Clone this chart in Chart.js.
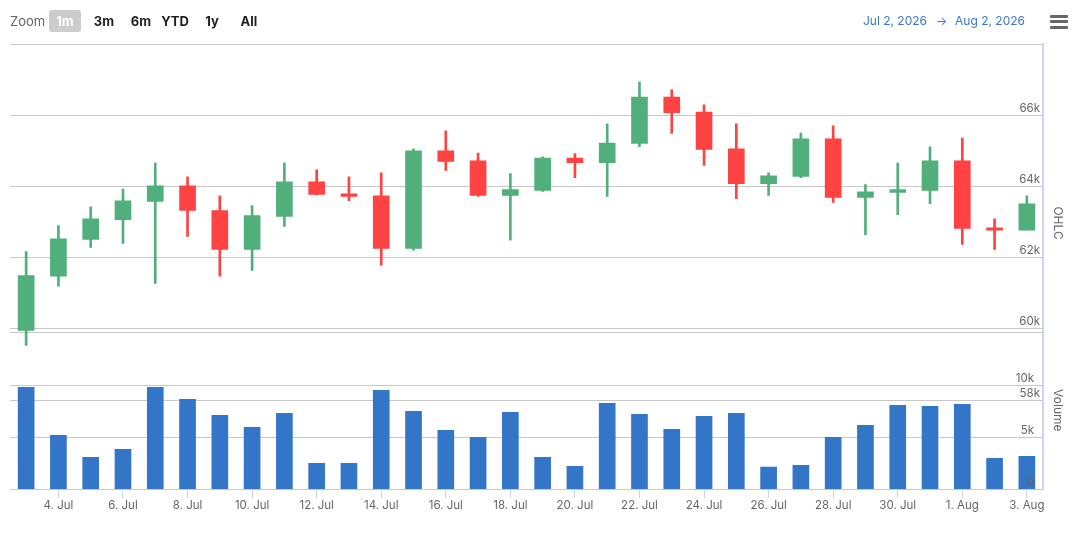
<!DOCTYPE html>
<html>
<head>
<meta charset="utf-8">
<script src="https://cdn.jsdelivr.net/npm/chart.js@4.4.1/dist/chart.umd.min.js"></script>
<style>
  html, body { margin: 0; padding: 0; background: #fff; }
  #wrap { position: relative; width: 1080px; height: 534px; overflow: hidden; font-family: Inter, "Open Sans", sans-serif; }
  #chart { position: absolute; left: 0; top: 0; }
  .tb { position: absolute; top: 10px; height: 22px; line-height: 22px; font-size: 13px; white-space: nowrap; }
  .zoom-label { left: 10px; color: #666; }
  .btn { font-weight: 700; color: #1f1f1f; text-align: center; }
  .btn.active { background: #cccccc; color: #fff; border-radius: 3px; }
  .range { color: #3b78c9; font-size: 12px; }
  .menu { position: absolute; left: 1050px; width: 18px; height: 3px; background: #666; border-radius: 1px; }
</style>
</head>
<body>
<div id="wrap">
  <canvas id="chart" width="1080" height="534"></canvas>
  <div class="tb zoom-label">Zoom</div>
  <div class="tb btn active" style="left:49px;width:32px;">1m</div>
  <div class="tb btn" style="left:92px;width:24px;">3m</div>
  <div class="tb btn" style="left:129px;width:24px;">6m</div>
  <div class="tb btn" style="left:160px;width:30px;">YTD</div>
  <div class="tb btn" style="left:203px;width:18px;">1y</div>
  <div class="tb btn" style="left:238px;width:22px;">All</div>
  <div class="tb range" style="right:153px;">Jul 2, 2026</div>
  <div class="tb range" style="left:936px;">&rarr;</div>
  <div class="tb range" style="right:55px;">Aug 2, 2026</div>
  <div class="menu" style="top:15px;"></div>
  <div class="menu" style="top:20px;"></div>
  <div class="menu" style="top:26px;"></div>
</div>
<script>
// Dates (one candle per day, 3 Jul - 3 Aug)
const DAYS = [
    '3. Jul', '4. Jul', '5. Jul', '6. Jul', '7. Jul', '8. Jul', '9. Jul', '10. Jul',
    '11. Jul', '12. Jul', '13. Jul', '14. Jul', '15. Jul', '16. Jul', '17. Jul', '18. Jul',
    '19. Jul', '20. Jul', '21. Jul', '22. Jul', '23. Jul', '24. Jul', '25. Jul', '26. Jul',
    '27. Jul', '28. Jul', '29. Jul', '30. Jul', '31. Jul', '1. Aug', '2. Aug', '3. Aug'
];

const OPEN = [
    59960, 61480, 62510, 63070, 63580, 64020, 63320, 62230,
    63160, 64130, 63790, 63740, 62260, 65000, 64720, 63750,
    63890, 64800, 64670, 65210, 66510, 66090, 65060, 64080,
    64280, 65340, 63690, 63830, 63890, 64720, 62840, 62770
];
const HIGH = [
    62170, 62900, 63430, 63930, 64660, 64270, 63740, 63460,
    64660, 64470, 64270, 64380, 65060, 65560, 64940, 64360,
    64830, 64920, 65760, 66930, 66710, 66290, 65760, 64380,
    65500, 65700, 64050, 64660, 65110, 65360, 63090, 63740
];
const LOW = [
    59540, 61200, 62290, 62400, 61280, 62600, 61480, 61640,
    62880, 63760, 63600, 61790, 62210, 64450, 63720, 62490,
    63860, 64250, 63720, 65120, 65490, 64590, 63660, 63750,
    64250, 63550, 62650, 63210, 63520, 62370, 62230, 62770
];
const CLOSE = [
    61500, 62530, 63090, 63600, 64020, 63330, 62230, 63180,
    64130, 63780, 63720, 62260, 65000, 64700, 63750, 63910,
    64800, 64670, 65220, 66510, 66070, 65040, 64080, 64300,
    65340, 63690, 63850, 63910, 64720, 62820, 62770, 63510
];
const VOLUME = [
    9810, 5190, 3080, 3850, 9810, 8650, 7120, 5960,
    7310, 2500, 2500, 9520, 7500, 5670, 5000, 7400,
    3080, 2210, 8270, 7210, 5770, 7020, 7310, 2120,
    2310, 5000, 6150, 8080, 7980, 8170, 2980, 3170
];

const PRICE_TICKS = [58000, 60000, 62000, 64000, 66000, 68000];
const VOLUME_TICKS = [0, 5000, 10000];

const UP = '#51af7b';
const DOWN = '#ff4242';
const VOL = '#3375c6';
const GRID = '#c8c8c8';
const AXIS = '#ccd6eb';
const TEXT = '#666666';

Chart.defaults.font.family = 'Inter, "Open Sans", sans-serif';

const candleColors = OPEN.map((o, i) => CLOSE[i] >= o ? UP : DOWN);

// linea inferior del panel OHLC y titulos de los ejes
const paneDecor = {
    id: 'paneDecor',
    beforeDatasetsDraw(chart) {
        const { ctx, chartArea } = chart;
        const y = Math.round(chart.scales.yPrice.getPixelForValue(60000)) + 3.5;
        ctx.save();
        ctx.strokeStyle = GRID;
        ctx.lineWidth = 1;
        ctx.beginPath();
        ctx.moveTo(chartArea.left, y);
        ctx.lineTo(chartArea.right, y);
        ctx.stroke();
        ctx.restore();
    },
    afterDraw(chart) {
        const { ctx } = chart;
        const p = chart.scales.yPrice;
        const v = chart.scales.yVol;
        const titles = [
            ['OHLC', (p.getPixelForValue(66000) + p.getPixelForValue(60000)) / 2 + 1],
            ['Volume', (v.getPixelForValue(0) + v.getPixelForValue(10000)) / 2 - 27]
        ];
        ctx.save();
        ctx.fillStyle = TEXT;
        ctx.font = '12px Inter, "Open Sans", sans-serif';
        ctx.textAlign = 'center';
        ctx.textBaseline = 'middle';
        titles.forEach(([text, y]) => {
            ctx.save();
            ctx.translate(1058, y);
            ctx.rotate(Math.PI / 2);
            ctx.fillText(text, 0, 0);
            ctx.restore();
        });
        ctx.restore();
    }
};

new Chart(document.getElementById('chart'), {
    type: 'bar',
    data: {
        labels: DAYS,
        datasets: [
            {
                label: 'Wick',
                data: LOW.map((l, i) => [l, HIGH[i]]),
                yAxisID: 'yPrice',
                backgroundColor: candleColors,
                barThickness: 2,
                grouped: false,
                order: 3
            },
            {
                label: 'OHLC',
                data: OPEN.map((o, i) => [o, CLOSE[i]]),
                yAxisID: 'yPrice',
                backgroundColor: candleColors,
                barThickness: 16,
                grouped: false,
                order: 2
            },
            {
                label: 'Volume',
                data: VOLUME,
                yAxisID: 'yVol',
                backgroundColor: VOL,
                barThickness: 16,
                grouped: false,
                order: 1
            }
        ]
    },
    options: {
        responsive: false,
        animation: false,
        layout: { padding: { top: 44, left: 10, right: 37, bottom: 22 } },
        scales: {
            x: {
                type: 'category',
                offset: true,
                afterBuildTicks: (scale) => {
                    scale.ticks = scale.ticks.filter(t => t.value % 2 === 1);
                },
                grid: { drawOnChartArea: false, drawTicks: true, tickLength: 9, color: AXIS, offset: false },
                border: { display: true, color: GRID },
                ticks: { autoSkip: false, maxRotation: 0, padding: 0, color: TEXT, font: { size: 11.5 } }
            },
            yPrice: {
                position: 'right',
                min: 55500,
                max: 68000,
                afterBuildTicks: (scale) => {
                    scale.ticks = PRICE_TICKS.map(value => ({ value }));
                },
                grid: { color: GRID, drawTicks: false },
                border: { display: true, color: AXIS, width: 2 },
                ticks: {
                    mirror: true,
                    padding: -3,
                    labelOffset: -7,
                    z: 1,
                    color: TEXT,
                    font: { size: 11.5 },
                    callback: (v) => v === 68000 ? '' : (v / 1000) + 'k'
                }
            },
            yVol: {
                position: 'right',
                min: 0,
                max: 42885,
                afterBuildTicks: (scale) => {
                    scale.ticks = VOLUME_TICKS.map(value => ({ value }));
                },
                grid: { color: GRID, drawTicks: false },
                border: { display: false },
                ticks: {
                    mirror: true,
                    padding: -3,
                    labelOffset: -7,
                    z: 1,
                    color: TEXT,
                    font: { size: 11.5 },
                    callback: (v) => v === 0 ? '0' : (v / 1000) + 'k'
                }
            }
        },
        plugins: {
            legend: { display: false },
            tooltip: { enabled: false }
        }
    },
    plugins: [paneDecor]
});
</script>
</body>
</html>
